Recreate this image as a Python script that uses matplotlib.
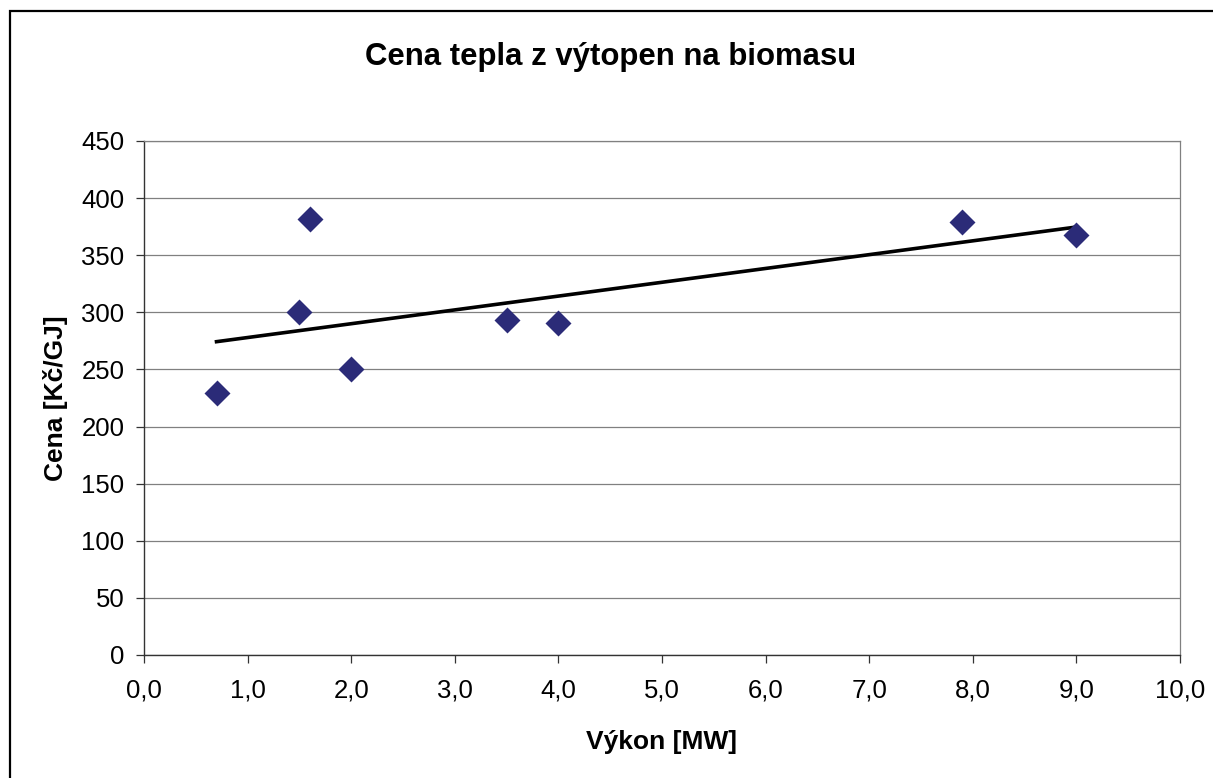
import numpy as np
import matplotlib
matplotlib.use("Agg")
import matplotlib.pyplot as plt
from matplotlib.patches import Rectangle
from matplotlib.ticker import FuncFormatter, MultipleLocator

plt.rcParams["font.family"] = ["Liberation Sans", "DejaVu Sans"]

# ── data ──────────────────────────────────────────────────────────────
vykon = [0.7, 1.5, 1.6, 2.0, 3.5, 4.0, 7.9, 9.0]       # MW
cena  = [229, 300, 382, 250, 293, 291, 379, 368]       # Kč/GJ

title   = "Cena tepla z výtopen na biomasu"
x_label = "Výkon [MW]"
y_label = "Cena [Kč/GJ]"

W, H = 1213, 778
fig = plt.figure(figsize=(W / 100, H / 100), dpi=100)
ax = fig.add_axes([144 / W, 1 - 655 / H, (1180 - 144) / W, (655 - 141) / H])

# outer chart frame (right/bottom edges lie outside the image)
fig.patches.append(Rectangle((10 / W, -0.05), 1.1, 1 - 11 / H + 0.05,
                             transform=fig.transFigure, fill=False,
                             edgecolor="black", lw=1.6, zorder=0))

ax.scatter(vykon, cena, marker="D", s=175, color="#2B2B78", zorder=3,
           linewidths=0)

# linear trendline (least squares), drawn over the data range
k, q = np.polyfit(vykon, cena, 1)
xt = np.array([min(vykon), max(vykon)])
ax.plot(xt, k * xt + q, color="black", lw=2.6, zorder=2)

ax.set_xlim(0, 10)
ax.set_ylim(0, 450)
ax.xaxis.set_major_locator(MultipleLocator(1))
ax.yaxis.set_major_locator(MultipleLocator(50))
ax.xaxis.set_major_formatter(FuncFormatter(lambda v, p: f"{v:.1f}".replace(".", ",")))
ax.yaxis.set_major_formatter(FuncFormatter(lambda v, p: f"{v:.0f}"))

ax.grid(axis="y", color="#808080", lw=0.9)
ax.set_axisbelow(True)
for side in ("top", "right"):
    ax.spines[side].set_color("#808080")
    ax.spines[side].set_linewidth(0.9)
for side in ("left", "bottom"):
    ax.spines[side].set_color("#333333")
    ax.spines[side].set_linewidth(1.0)

ax.tick_params(axis="both", direction="out", length=6, width=0.9,
               color="#333333", labelsize=18.5)
ax.tick_params(axis="x", pad=11)
ax.tick_params(axis="y", pad=8)

ax.set_xlabel(x_label, fontsize=19, fontweight="bold", labelpad=20)
ax.set_ylabel(y_label, fontsize=19, fontweight="bold", labelpad=10)
fig.text(611 / W, 1 - 57 / H, title, fontsize=22.4, fontweight="bold",
         ha="center", va="center")

fig.savefig("out.png", dpi=100)
